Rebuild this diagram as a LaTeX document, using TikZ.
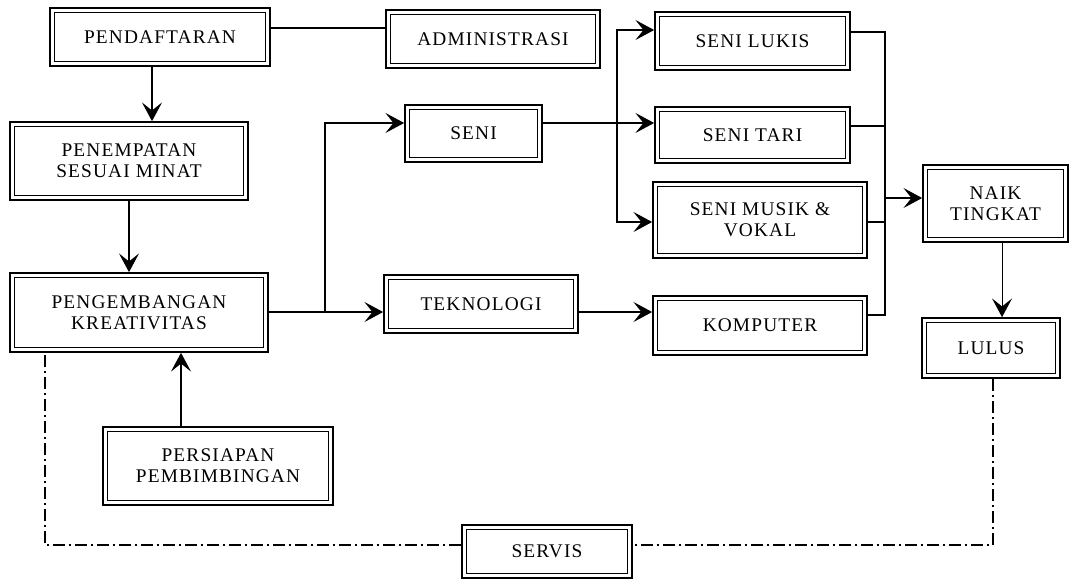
\documentclass[tikz,border=0pt]{standalone}
\usepackage{fontspec}
\setmainfont{Liberation Serif}
\newfontfamily\boxfont[LetterSpace=6]{Liberation Serif}
\usetikzlibrary{arrows.meta}
\begin{document}
\begin{tikzpicture}[x=0.75pt,y=-0.75pt,
  stepbox/.style={draw, line width=1.3pt, inner sep=0pt, align=center,
    font=\boxfont\fontsize{14.5}{16}\selectfont,
    path picture={\draw[line width=1.3pt]
      ([shift={(3.3pt,-3.3pt)}]path picture bounding box.north west) rectangle
      ([shift={(-3.3pt,3.3pt)}]path picture bounding box.south east);}},
  link/.style={line width=0.8pt},
  arr/.style={link, -{Stealth[length=14pt,width=15pt,inset=6pt]}},
  feedback/.style={line width=0.8pt, dash pattern=on 9pt off 3pt on 1.5pt off 3pt}
]
\fill[white] (0,0) rectangle (1070,583);
\useasboundingbox (0,0) rectangle (1070,583);

% boxes
\node[stepbox, minimum width=165pt, minimum height=43.5pt] (pendaftaran) at (160,37) {PENDAFTARAN};
\node[stepbox, minimum width=160.5pt, minimum height=43.5pt] (administrasi) at (493,39) {ADMINISTRASI};
\node[stepbox, minimum width=178.5pt, minimum height=58.5pt] (penempatan) at (129,161) {PENEMPATAN\\SESUAI MINAT};
\node[stepbox, minimum width=193.5pt, minimum height=59.25pt] (pengembangan) at (139,312.5) {PENGEMBANGAN\\KREATIVITAS};
\node[stepbox, minimum width=172.5pt, minimum height=58.5pt] (persiapan) at (218,466) {PERSIAPAN\\PEMBIMBINGAN};
\node[stepbox, minimum width=102.75pt, minimum height=42.75pt] (seni) at (473.5,133.5) {SENI};
\node[stepbox, minimum width=145.5pt, minimum height=43.5pt] (teknologi) at (481,304) {TEKNOLOGI};
\node[stepbox, minimum width=146.25pt, minimum height=43.5pt] (senilukis) at (752.5,41) {SENI LUKIS};
\node[stepbox, minimum width=146.25pt, minimum height=42pt] (senitari) at (752.5,135) {SENI TARI};
\node[stepbox, minimum width=160.5pt, minimum height=57pt] (senimusik) at (760,220) {SENI MUSIK \&\\VOKAL};
\node[stepbox, minimum width=160.5pt, minimum height=44.25pt] (komputer) at (760,325.5) {KOMPUTER};
\node[stepbox, minimum width=108.75pt, minimum height=57.75pt] (naik) at (995.5,203.5) {NAIK\\TINGKAT};
\node[stepbox, minimum width=103.5pt, minimum height=45pt] (lulus) at (991,348) {LULUS};
\node[stepbox, minimum width=127.5pt, minimum height=39.75pt] (servis) at (547,551.5) {SERVIS};

% registration and placement
\draw[link] ([yshift=6.75pt]pendaftaran.east) coordinate (pa) -- (pa -| administrasi.west);
\draw[arr] ([xshift=-6pt]pendaftaran.south) coordinate (pb) -- (pb |- penempatan.north);
\draw[arr] (penempatan.south) -- (penempatan.south |- pengembangan.north);
\draw[arr] ([xshift=-27.75pt]persiapan.north) coordinate (pc) -- (pc |- pengembangan.south);

% split into art and technology
\coordinate (fork1) at (325,312);
\draw[arr] (pengembangan.east |- fork1) -- (teknologi.west |- fork1);
\draw[arr] (fork1) |- ([yshift=7.9pt]seni.west);

% art branches
\draw[arr] ([yshift=7.9pt]seni.east) coordinate (sa) -- (sa -| senitari.west);
\coordinate (fork2) at (617,123);
\draw[arr] (fork2) |- ([yshift=8.25pt]senilukis.west);
\draw[arr] (fork2) |- ([yshift=-1.5pt]senimusik.west);

% technology branch
\draw[arr] ([yshift=-6pt]teknologi.east) coordinate (ta) -- (ta -| komputer.west);

% collecting bus to promotion
\coordinate (bus) at (885,198);
\draw[link] ([yshift=6.75pt]senilukis.east) -| (bus);
\draw[link] ([yshift=6.75pt]senitari.east) -| (bus);
\draw[link] ([yshift=-1.5pt]senimusik.east) -| (bus);
\draw[link] ([yshift=7.9pt]komputer.east) -| (bus);
\draw[arr] (bus) -- (bus -| naik.west);
\draw[arr] ([xshift=4.9pt]naik.south) coordinate (na) -- (na |- lulus.north);

% service feedback loop
\draw[feedback] ([xshift=1.5pt]lulus.south) |- ([yshift=4.9pt]servis.east);
\draw[feedback] ([yshift=4.9pt]servis.west) -| ([xshift=-70.5pt]pengembangan.south);
\end{tikzpicture}
\end{document}
